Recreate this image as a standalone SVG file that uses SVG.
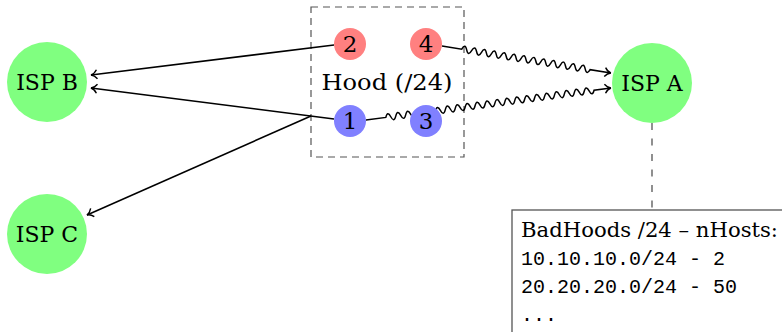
<svg xmlns="http://www.w3.org/2000/svg" width="782" height="332" viewBox="0 0 782 332">
<style>
.isp{fill:#80ff80}
.red{fill:#ff8080}
.blue{fill:#8080ff}
.lbl{font-family:"DejaVu Serif","Liberation Serif",serif;font-size:22px;fill:#000;text-anchor:middle}
.num{font-family:"DejaVu Serif","Liberation Serif",serif;font-size:23px;fill:#000;text-anchor:middle}
.edge{fill:none;stroke:#000;stroke-width:1.5}
.dash{fill:none;stroke:#555;stroke-width:1.2;stroke-dasharray:7 5}
.mono{font-family:"Liberation Mono","DejaVu Sans Mono",monospace;font-size:20px;fill:#000}
</style>
<defs>
<marker id="to" markerUnits="userSpaceOnUse" markerWidth="12" markerHeight="12" viewBox="-8 -6 10 12" refX="0" refY="0" orient="auto">
<path d="M-6,-4.5 C-4,-1.5 -1.5,-0.3 0,0 C-1.5,0.3 -4,1.5 -6,4.5" fill="none" stroke="#000" stroke-width="1.4"/>
</marker>
</defs>
<g id="hood">
<rect x="311" y="7" width="153" height="150" class="dash"/>
<text x="387" y="90" class="lbl" font-size="23" textLength="131" lengthAdjust="spacingAndGlyphs">Hood (/24)</text>
</g>
<g id="connectors">
<line x1="334" y1="45" x2="91" y2="75" class="edge" marker-end="url(#to)"/>
<line x1="334" y1="119" x2="91" y2="88" class="edge" marker-end="url(#to)"/>
<line x1="311" y1="116" x2="87" y2="215" class="edge" marker-end="url(#to)"/>
<g transform="translate(442,46) rotate(9.08)">
<path class="edge" marker-end="url(#to)" d="M0,0 H20 q2.5,-6.5 5,0 t5,0 t5,0 t5,0 t5,0 t5,0 t5,0 t5,0 t5,0 t5,0 t5,0 t5,0 t5,0 t5,0 t5,0 t5,0 t5,0 t5,0 t5,0 t5,0 t5,0 t5,0 t5,0 t5,0 t5,0 t5,0 H171"/>
</g>
<g transform="translate(366,120) rotate(-7.44)">
<path class="edge" marker-end="url(#to)" d="M0,0 H20 q2.5,-6.5 5,0 t5,0 t5,0 t5,0 t5,0 t5,0 t5,0 t5,0 t5,0 t5,0 t5,0 t5,0 t5,0 t5,0 t5,0 t5,0 t5,0 t5,0 t5,0 t5,0 t5,0 t5,0 t5,0 t5,0 t5,0 t5,0 t5,0 t5,0 t5,0 t5,0 t5,0 t5,0 t5,0 t5,0 t5,0 t5,0 t5,0 t5,0 t5,0 t5,0 t5,0 t5,0 H247"/>
</g>
<line x1="652" y1="123" x2="652" y2="210" fill="none" stroke="#555" stroke-width="1.3" stroke-dasharray="7 8.5"/>
</g>
<g id="ispB"><circle cx="47" cy="82" r="40" class="isp"/><text x="47" y="90" class="lbl">ISP B</text></g>
<g id="ispC"><circle cx="47" cy="234" r="40" class="isp"/><text x="47" y="242" class="lbl">ISP C</text></g>
<g id="ispA"><circle cx="652" cy="83" r="40" class="isp"/><text x="652" y="91" class="lbl">ISP A</text></g>
<g id="n2"><circle cx="350" cy="44" r="16" class="red"/><text x="350" y="52" class="num">2</text></g>
<g id="n4"><circle cx="426" cy="44" r="16" class="red"/><text x="426" y="52" class="num">4</text></g>
<g id="n1"><circle cx="350" cy="121" r="16" class="blue"/><text x="350" y="129" class="num">1</text></g>
<g id="n3"><circle cx="426" cy="121" r="16" class="blue"/><text x="426" y="129" class="num">3</text></g>
<g id="badhoods">
<rect x="512" y="210" width="300" height="150" fill="#fff" stroke="#555" stroke-width="1.3"/>
<text x="521" y="237" font-family="DejaVu Serif, Liberation Serif, serif" font-size="21" textLength="257" lengthAdjust="spacingAndGlyphs">BadHoods /24 – nHosts:</text>
<text x="521" y="265" class="mono">10.10.10.0/24 - 2</text>
<text x="521" y="293" class="mono">20.20.20.0/24 - 50</text>
<text x="521" y="321" class="mono">...</text>
</g>
</svg>
